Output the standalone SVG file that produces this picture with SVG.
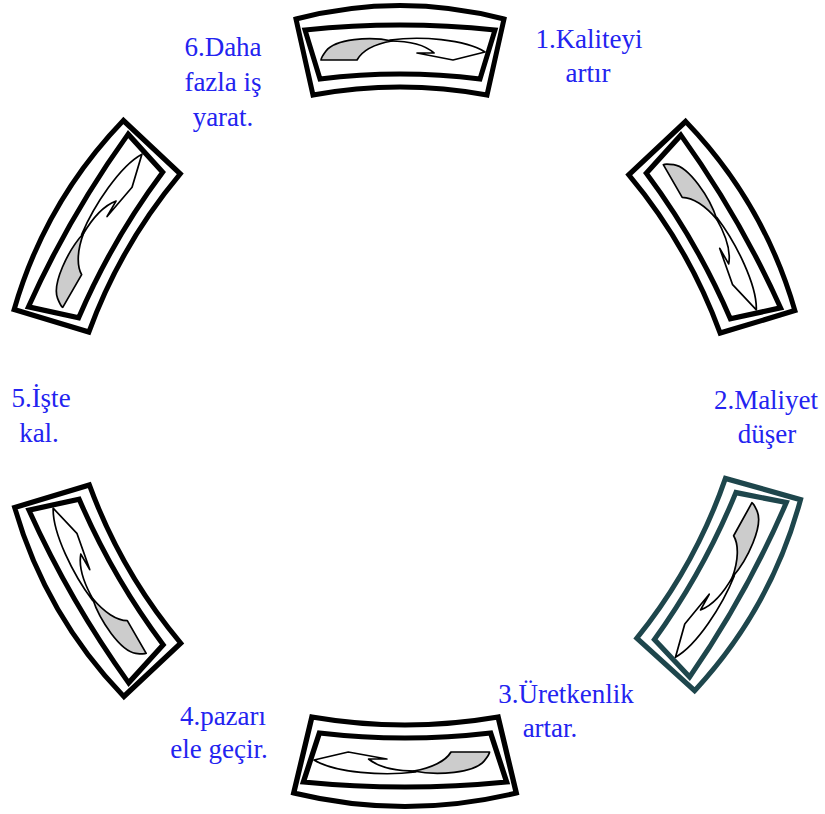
<svg xmlns="http://www.w3.org/2000/svg" width="825" height="814" viewBox="0 0 825 814">
<defs>
<style>
.fo{fill:#fff;stroke:currentColor;stroke-width:5;stroke-linejoin:miter}
.ag{fill:#cccccc;stroke:#000;stroke-width:1.7;stroke-linejoin:round}
.aw{fill:#fff;stroke:#000;stroke-width:1.7;stroke-linejoin:round}
.lbl{font-family:"Liberation Serif","DejaVu Serif",serif;font-size:27px;fill:#2323f0;text-anchor:middle}
</style>
<g id="frameT">
<path class="fo" d="M-104,-386 Q0,-413 104,-386 L87,-310 Q0,-326 -87,-310 Z"/>
<path class="fo" d="M-95,-375 Q0,-385 95,-375 L80,-326 Q0,-336 -80,-326 Z"/>
<path class="ag" d="M-79,-345 L-43,-345 C-38,-354 -25,-361 -8,-364 C-30,-369 -65,-366 -74,-354 C-77,-350 -79,-347 -79,-345 Z"/>
<path class="aw" d="M-10,-365 C20,-369 65,-366 85,-353 L53,-345 L17,-352 L34,-352 C25,-360 10,-364 -10,-364 Z"/>
</g>
</defs>
<g id="connectors"></g>
<g id="node1" color="#000"><use href="#frameT" transform="translate(400,405)"/></g>
<g id="node2" color="#000"><use href="#frameT" transform="translate(406,409) rotate(60) scale(1.05,1)"/></g>
<g id="node3" color="#1e464c"><use href="#frameT" transform="translate(410,408) rotate(119) scale(1.05,1)"/></g>
<g id="node4" color="#000"><use href="#frameT" transform="translate(405,407) rotate(180) scale(1.07,1)"/></g>
<g id="node5" color="#000"><use href="#frameT" transform="translate(403.5,409) rotate(240) scale(1.05,1)"/></g>
<g id="node6" color="#000"><use href="#frameT" transform="translate(403,408) rotate(300) scale(1.05,1)"/></g>
<g id="label1"><text class="lbl" x="589" y="48">1.Kaliteyi</text><text class="lbl" x="588" y="82">artır</text></g>
<g id="label2"><text class="lbl" x="766" y="409">2.Maliyet</text><text class="lbl" x="767" y="443">düşer</text></g>
<g id="label3"><text class="lbl" x="566" y="703">3.Üretkenlik</text><text class="lbl" x="550" y="737">artar.</text></g>
<g id="label4"><text class="lbl" x="223" y="725">4.pazarı</text><text class="lbl" x="219" y="758">ele geçir.</text></g>
<g id="label5"><text class="lbl" x="41" y="407">5.İşte</text><text class="lbl" x="39" y="442">kal.</text></g>
<g id="label6"><text class="lbl" x="223" y="56">6.Daha</text><text class="lbl" x="223" y="91">fazla iş</text><text class="lbl" x="223" y="126">yarat.</text></g>
</svg>
